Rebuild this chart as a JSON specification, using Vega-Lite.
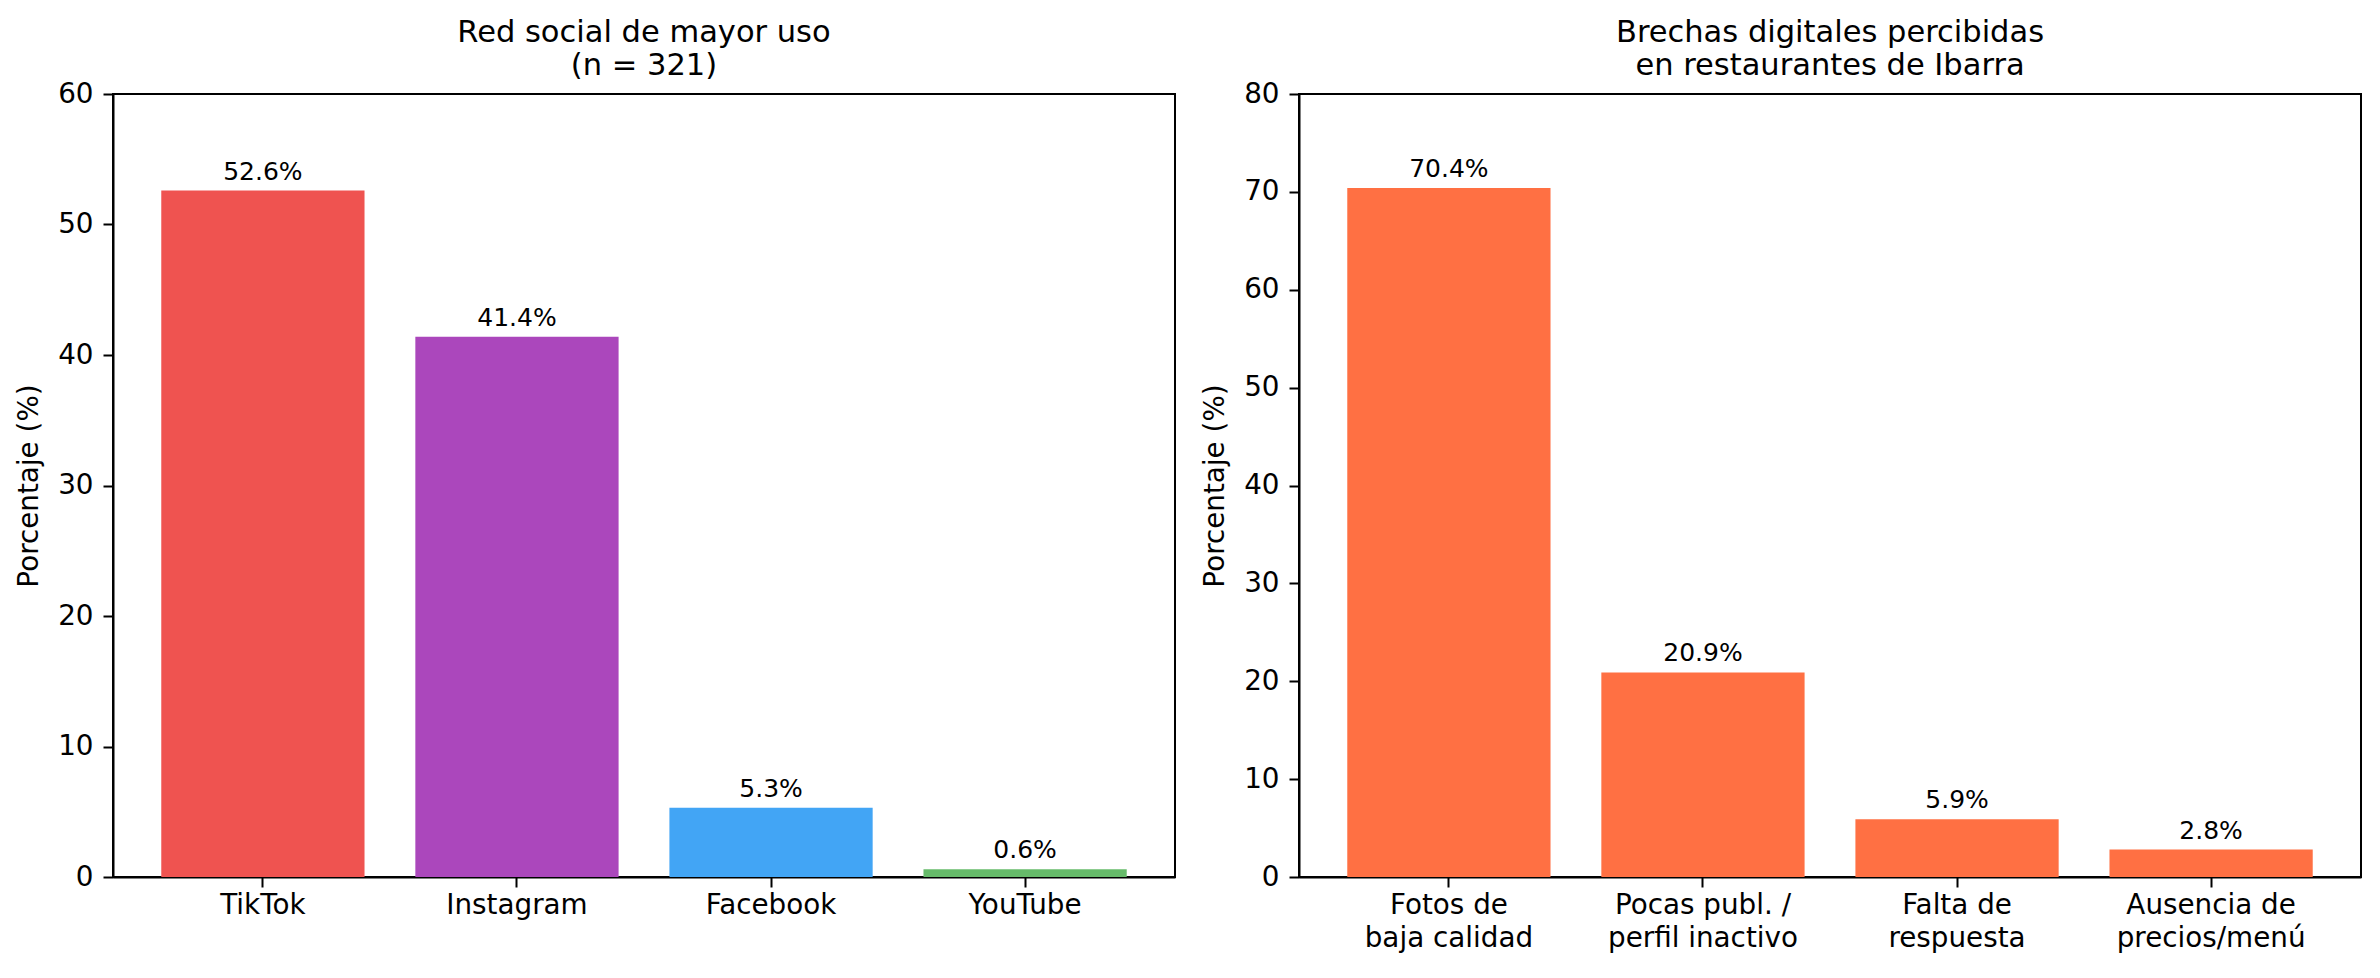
{
  "$schema": "https://vega.github.io/schema/vega-lite/v6.json",
  "padding": {"left": 14, "top": 16, "right": 5, "bottom": 5},
  "config": {
    "font": "DejaVu Sans",
    "view": {"stroke": "black", "strokeWidth": 2},
    "axis": {
      "domainColor": "black", "domainWidth": 2,
      "tickColor": "black", "tickWidth": 2, "tickSize": 10,
      "labelColor": "black", "labelFontSize": 27.8, "labelFont": "DejaVu Sans", "labelLimit": 0,
      "titleColor": "black", "titleFontSize": 27.8, "titleFont": "DejaVu Sans", "titleFontWeight": "normal",
      "grid": false
    },
    "title": {"fontSize": 30.5, "fontWeight": "normal", "color": "black", "lineHeight": 33, "baseline": "bottom", "offset": -1, "anchor": "middle", "font": "DejaVu Sans"}
  },
  "spacing": 24,
  "resolve": {"scale": {"x": "independent", "y": "independent", "color": "independent"}},
  "hconcat": [
    {
      "width": 1062,
      "height": 783,
      "title": {"text": ["Red social de mayor uso", "(n = 321)"]},
      "data": {"values": [
        {"red": "TikTok", "pct": 52.6},
        {"red": "Instagram", "pct": 41.4},
        {"red": "Facebook", "pct": 5.3},
        {"red": "YouTube", "pct": 0.6}
      ]},
      "transform": [{"calculate": "format(datum.pct, '.1f') + '%'", "as": "etiqueta"}],
      "encoding": {
        "x": {"field": "red", "type": "nominal", "sort": null,
              "scale": {"paddingInner": 0.2, "paddingOuter": 0.19},
              "axis": {"title": null, "labelAngle": 0, "labelPadding": 4}},
        "y": {"field": "pct", "type": "quantitative",
              "scale": {"domain": [0, 60], "nice": false},
              "axis": {"title": "Porcentaje (%)", "values": [0, 10, 20, 30, 40, 50, 60], "labelPadding": 10, "titlePadding": 14}}
      },
      "layer": [
        {
          "mark": {"type": "bar"},
          "encoding": {
            "color": {"field": "red", "type": "nominal", "sort": null, "legend": null,
                      "scale": {"domain": ["TikTok", "Instagram", "Facebook", "YouTube"],
                                "range": ["#EF5350", "#AB47BC", "#42A5F5", "#66BB6A"]}}
          }
        },
        {
          "mark": {"type": "text", "baseline": "alphabetic", "dy": -11, "fontSize": 25, "color": "black"},
          "encoding": {"text": {"field": "etiqueta", "type": "nominal"}}
        }
      ]
    },
    {
      "width": 1062,
      "height": 783,
      "title": {"text": ["Brechas digitales percibidas", "en restaurantes de Ibarra"]},
      "data": {"values": [
        {"brecha": "Fotos de\nbaja calidad", "pct": 70.4},
        {"brecha": "Pocas publ. /\nperfil inactivo", "pct": 20.9},
        {"brecha": "Falta de\nrespuesta", "pct": 5.9},
        {"brecha": "Ausencia de\nprecios/menú", "pct": 2.8}
      ]},
      "transform": [{"calculate": "format(datum.pct, '.1f') + '%'", "as": "etiqueta"}],
      "encoding": {
        "x": {"field": "brecha", "type": "nominal", "sort": null,
              "scale": {"paddingInner": 0.2, "paddingOuter": 0.19},
              "axis": {"title": null, "labelAngle": 0, "labelPadding": 4, "labelLineHeight": 33,
                       "labelExpr": "split(datum.value, '\\n')"}},
        "y": {"field": "pct", "type": "quantitative",
              "scale": {"domain": [0, 80], "nice": false},
              "axis": {"title": "Porcentaje (%)", "values": [0, 10, 20, 30, 40, 50, 60, 70, 80], "labelPadding": 10, "titlePadding": 14}}
      },
      "layer": [
        {"mark": {"type": "bar", "color": "#FF7043"}},
        {
          "mark": {"type": "text", "baseline": "alphabetic", "dy": -11, "fontSize": 25, "color": "black"},
          "encoding": {"text": {"field": "etiqueta", "type": "nominal"}}
        }
      ]
    }
  ]
}
